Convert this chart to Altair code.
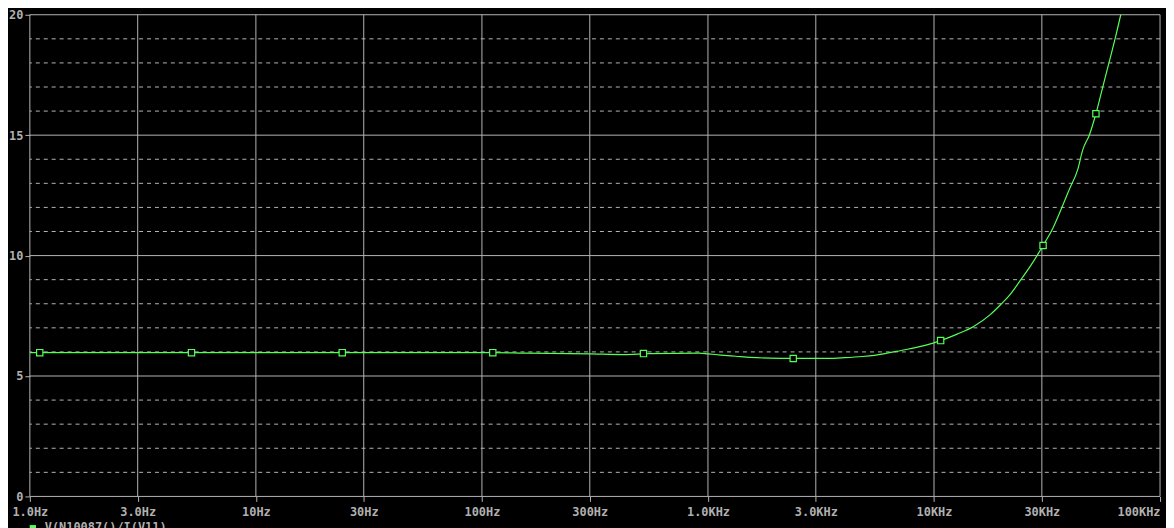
import altair as alt
import pandas as pd

# ---- data ----
freq = [1, 1.106, 5.19, 24.1, 111.7, 154.4, 300.8, 423.6, 518.6, 551, 913,
        1000, 1140, 1327, 1544, 1889, 2383, 3394, 4030, 4832, 5454, 7163,
        9036, 10700, 12656, 14978, 17737, 19933, 21700, 24010, 26550,
        28870, 30370, 33600, 37170, 39780, 43260, 45500, 48680, 52040,
        55670, 59570, 63680, 66990, 70960]
gain = [5.97, 5.97, 5.97, 5.97, 5.97, 5.95, 5.92, 5.89, 5.92, 5.93, 5.95,
        5.92, 5.87, 5.82, 5.77, 5.74, 5.73, 5.73, 5.76, 5.81, 5.86, 6.06,
        6.26, 6.47, 6.74, 7.06, 7.55, 8.01, 8.38, 8.95, 9.53,
        10.07, 10.42, 11.15, 12.10, 12.77, 13.58, 14.39, 15.01, 15.89,
        16.96, 18.04, 19.11, 19.99, 20.9]

marker_freq = [1.106, 5.19, 24.1, 111.7, 518.6, 2383, 10700, 30370, 52040]
marker_gain = [5.97, 5.97, 5.97, 5.97, 5.93, 5.73, 6.47, 10.42, 15.89]

x_ticks = [1, 3, 10, 30, 100, 300, 1000, 3000, 10000, 30000, 100000]
x_labels = ["1.0Hz", "3.0Hz", "10Hz", "30Hz", "100Hz", "300Hz",
            "1.0KHz", "3.0KHz", "10KHz", "30KHz", "100KHz"]
y_major = [0, 5, 10, 15, 20]
y_minor = [1, 2, 3, 4, 6, 7, 8, 9, 11, 12, 13, 14, 16, 17, 18, 19]
legend_label = ["V(N10087()/I(V11)"]

# ---- styling ----
GREEN = "#55ff55"
GRID = "#b4b4b4"
LABEL = "#b0b0b0"
FONT = "DejaVu Sans Mono"

label_expr = ""
for v, s in zip(x_ticks, x_labels):
    label_expr += f"abs(datum.value - {v}) < {v * 1e-6} ? '{s}' : "
label_expr += "''"

xscale = alt.Scale(type="log", domain=[1, 100000], nice=False)
yscale = alt.Scale(domain=[0, 20], nice=False, zero=False)

xaxis = alt.Axis(values=x_ticks, labelExpr=label_expr, title=None, grid=False,
                 domain=False, ticks=True, tickSize=5, tickColor=GRID,
                 labelPadding=5, labelFont=FONT, labelFontSize=12,
                 labelFontWeight="bold", labelColor=LABEL, labelOverlap=False,
                 labelAlign={"condition": {"test": "datum.value >= 99999", "value": "right"},
                             "value": "center"})
yaxis = alt.Axis(values=y_major, title=None, grid=False, domain=False,
                 ticks=True, tickSize=5, tickColor=GRID, labelPadding=2,
                 labelFont=FONT, labelFontSize=12, labelFontWeight="bold",
                 labelColor=LABEL, labelOverlap=False)

df_curve = pd.DataFrame({"f": freq, "g": gain})
df_mark = pd.DataFrame({"f": marker_freq, "g": marker_gain})
df_xt = pd.DataFrame({"f": x_ticks})
df_ymaj = pd.DataFrame({"g": y_major})
df_ymin = pd.DataFrame({"g": y_minor})
df_leg = pd.DataFrame({"t": legend_label})

minor = alt.Chart(df_ymin).mark_rule(color=GRID, strokeWidth=1, strokeDash=[4, 4]).encode(
    y=alt.Y("g:Q", scale=yscale, axis=yaxis))
major = alt.Chart(df_ymaj).mark_rule(color=GRID, strokeWidth=1).encode(
    y=alt.Y("g:Q", scale=yscale, axis=yaxis))
vert = alt.Chart(df_xt).mark_rule(color=GRID, strokeWidth=1).encode(
    x=alt.X("f:Q", scale=xscale, axis=xaxis))
line = alt.Chart(df_curve).mark_line(color=GREEN, strokeWidth=1.2, clip=True,
                                     interpolate="monotone").encode(
    x=alt.X("f:Q", scale=xscale, axis=xaxis),
    y=alt.Y("g:Q", scale=yscale, axis=yaxis))
marks = alt.Chart(df_mark).mark_point(shape="square", filled=True, fill="#000000",
                                      stroke=GREEN, strokeWidth=1.2, size=40,
                                      opacity=1).encode(
    x=alt.X("f:Q", scale=xscale, axis=xaxis),
    y=alt.Y("g:Q", scale=yscale, axis=yaxis))
leg_sq = alt.Chart(df_leg).mark_point(shape="square", filled=True, color=GREEN,
                                      size=40, opacity=1).encode(
    x=alt.value(3), y=alt.value(517))
leg_txt = alt.Chart(df_leg).mark_text(align="left", baseline="top", font=FONT,
                                      fontSize=12, fontWeight="bold",
                                      color=LABEL).encode(
    x=alt.value(15), y=alt.value(511), text="t:N")

chart = alt.layer(minor, major, vert, line, marks, leg_sq, leg_txt).properties(
    width=1138, height=485,
    padding={"left": 22, "top": 5, "right": 6, "bottom": 30},
    autosize="none",
    background="#000000",
).configure_view(stroke=None)

chart.save("out.html", embed_options={"renderer": "svg", "actions": False})
